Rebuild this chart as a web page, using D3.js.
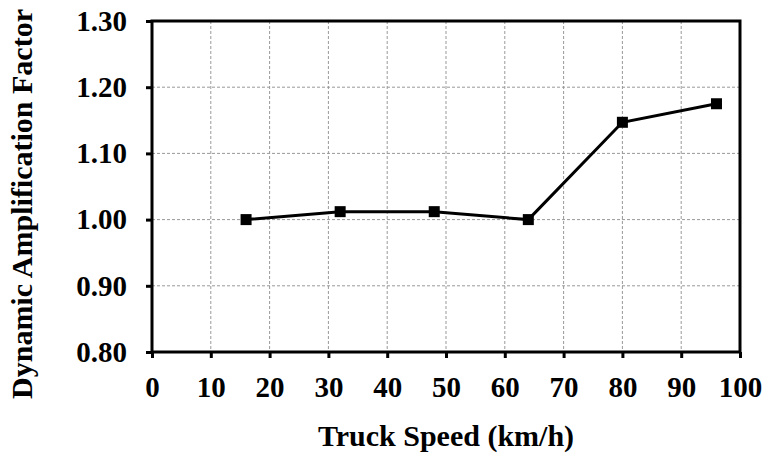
<!DOCTYPE html>
<html>
<head>
<meta charset="utf-8">
<script src="https://cdn.jsdelivr.net/npm/d3@7/dist/d3.min.js"></script>
<style>
  html, body { margin: 0; padding: 0; background: #fff; }
  svg { display: block; }
  text { font-family: "Liberation Serif", "Times New Roman", serif; font-weight: bold; fill: #000; }
</style>
</head>
<body>
<svg id="chart" width="763" height="472"></svg>
<script>
// Truck speed vs. dynamic amplification factor
const speeds = [16, 32, 48, 64, 80, 96];
const dafValues = [1.000, 1.012, 1.012, 1.000, 1.147, 1.175];
const xTicks = [0, 10, 20, 30, 40, 50, 60, 70, 80, 90, 100];
const yTicks = [0.80, 0.90, 1.00, 1.10, 1.20, 1.30];
const xTitle = "Truck Speed (km/h)";
const yTitle = "Dynamic Amplification Factor";

const svg = d3.select("#chart");
const plotL = 152, plotR = 740, plotT = 21, plotB = 352;
const tickFont = "29px", titleFont = "30px";

const x = d3.scaleLinear().domain([0, 100]).range([plotL, plotR]);
const y = d3.scaleLinear().domain([0.80, 1.30]).range([plotB, plotT]);

// dashed grid
const grid = svg.append("g");
grid.selectAll("line.v").data(xTicks.slice(1, -1)).join("line")
  .attr("x1", d => x(d)).attr("x2", d => x(d))
  .attr("y1", plotT).attr("y2", plotB)
  .attr("stroke", "#999").attr("stroke-width", 1).attr("stroke-dasharray", "3,2");
grid.selectAll("line.h").data(yTicks.slice(1, -1)).join("line")
  .attr("x1", plotL).attr("x2", plotR)
  .attr("y1", d => y(d)).attr("y2", d => y(d))
  .attr("stroke", "#999").attr("stroke-width", 1).attr("stroke-dasharray", "3,2");

// frame
svg.append("rect")
  .attr("x", plotL).attr("y", plotT)
  .attr("width", plotR - plotL).attr("height", plotB - plotT)
  .attr("fill", "none").attr("stroke", "#000").attr("stroke-width", 3);

// axes
const xAxis = d3.axisBottom(x).tickValues(xTicks).tickSize(6).tickPadding(18).tickFormat(d3.format("d"));
const gx = svg.append("g").attr("transform", `translate(0,${plotB})`).call(xAxis);
gx.attr("font-family", null).attr("font-size", null);
gx.select(".domain").remove();
gx.selectAll(".tick line").attr("stroke", "#000").attr("stroke-width", 3);
gx.selectAll(".tick text").style("font-size", tickFont);

const yAxis = d3.axisLeft(y).tickValues(yTicks).tickSize(6).tickPadding(19).tickFormat(d3.format(".2f"));
const gy = svg.append("g").attr("transform", `translate(${plotL},0)`).call(yAxis);
gy.attr("font-family", null).attr("font-size", null);
gy.select(".domain").remove();
gy.selectAll(".tick line").attr("stroke", "#000").attr("stroke-width", 3);
gy.selectAll(".tick text").style("font-size", tickFont);

// data line and markers
const pts = speeds.map((s, i) => [s, dafValues[i]]);
svg.append("path")
  .datum(pts)
  .attr("fill", "none").attr("stroke", "#000").attr("stroke-width", 3)
  .attr("d", d3.line().x(d => x(d[0])).y(d => y(d[1])));
const ms = 11;
svg.selectAll("rect.marker").data(pts).join("rect")
  .attr("class", "marker")
  .attr("x", d => x(d[0]) - ms / 2).attr("y", d => y(d[1]) - ms / 2)
  .attr("width", ms).attr("height", ms).attr("fill", "#000");

// titles
svg.append("text")
  .attr("x", 446).attr("y", 446)
  .attr("text-anchor", "middle").style("font-size", titleFont)
  .text(xTitle);
svg.append("text")
  .attr("transform", "translate(32,204) rotate(-90)")
  .attr("text-anchor", "middle").style("font-size", titleFont)
  .text(yTitle);
</script>
</body>
</html>
